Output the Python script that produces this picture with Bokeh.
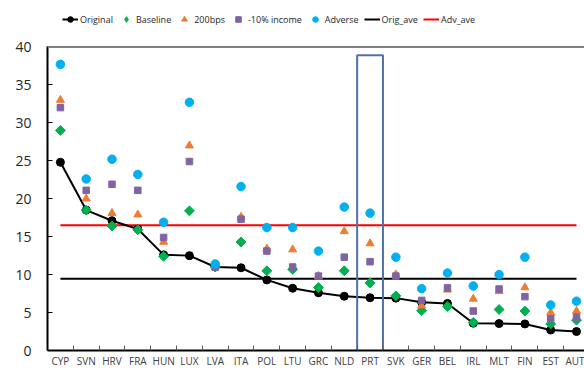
import numpy as np
from bokeh.plotting import figure
from bokeh.models import Range1d, FixedTicker, Legend, LegendItem, Span
from bokeh.embed import file_html
from bokeh.resources import INLINE

countries = ["CYP", "SVN", "HRV", "FRA", "HUN", "LUX", "LVA", "ITA", "POL", "LTU", "GRC",
             "NLD", "PRT", "SVK", "GER", "BEL", "IRL", "MLT", "FIN", "EST", "AUT"]
original = [24.8, 18.5, 17.1, 16.0, 12.6, 12.5, 11.0, 10.9, 9.3, 8.2, 7.6,
            7.15, 6.95, 6.9, 6.35, 6.2, 3.6, 3.55, 3.5, 2.7, 2.5]
baseline = [29.0, 18.5, 16.4, 15.9, 12.4, 18.4, 11.0, 14.3, 10.5, 10.7, 8.3,
            10.5, 8.9, 7.2, 5.25, 5.8, 3.7, 5.4, 5.2, 3.5, 4.0]
bps200 = [33.0, 20.0, 18.1, 17.9, 14.3, 27.0, 11.1, 17.6, 13.4, 13.3, 9.8,
          15.7, 14.1, 10.0, 5.9, 8.0, 6.8, 7.8, 8.3, 5.0, 5.2]
income10 = [32.0, 21.1, 21.9, 21.1, 14.9, 24.9, 11.0, 17.3, 13.1, 11.0, 9.8,
            12.3, 11.7, 9.8, 6.6, 8.25, 5.2, 8.1, 7.1, 4.2, 4.4]
adverse = [37.7, 22.6, 25.2, 23.2, 16.9, 32.7, 11.4, 21.6, 16.2, 16.2, 13.1,
           18.9, 18.1, 12.3, 8.15, 10.2, 8.5, 10.0, 12.3, 6.0, 6.5]
orig_ave = 9.45
adv_ave = 16.5
highlight = "PRT"
highlight_top = 38.9
y_ticks = [0, 5, 10, 15, 20, 25, 30, 35, 40]
y_max = 40

FONT = "Open Sans"
n = len(countries)
xs = list(range(n))

p = figure(width=584, height=370, output_backend="svg", toolbar_location=None,
           x_range=Range1d(-0.5, 20.31), y_range=Range1d(0, 45.85),
           min_border_left=47, min_border_right=0, min_border_top=2, min_border_bottom=19)
p.outline_line_color = None
p.xgrid.grid_line_color = None
p.ygrid.grid_line_color = None

# top line of the plot area
p.add_layout(Span(location=y_max, dimension="width", line_color="#7f7f7f", line_width=2))

# averages
r_oave = p.line(x=[xs[0], xs[-1]], y=[orig_ave, orig_ave], line_color="black", line_width=2)
r_aave = p.line(x=[xs[0], xs[-1]], y=[adv_ave, adv_ave], line_color="#FF0000", line_width=2)

# original
r_ol = p.line(x=xs, y=original, line_color="black", line_width=2)
r_od = p.scatter(x=xs, y=original, marker="circle", size=8, fill_color="black", line_color="black")

p.scatter(x=xs, y=baseline, marker="square", angle=np.pi / 4, size=7,
          fill_color="#00B050", line_color="#00B050")
# hidden twin used only for the legend swatch (diamond shape)
r_base = p.scatter(x=xs, y=baseline, marker="diamond", size=9,
                   fill_color="#00B050", line_color="#00B050", visible=False)
r_bps = p.scatter(x=xs, y=bps200, marker="triangle", size=8,
                  fill_color="#ED7D31", line_color="#ED7D31")
r_inc = p.scatter(x=xs, y=income10, marker="square", size=6.5,
                  fill_color="#8064A2", line_color="#8064A2")
r_adv = p.scatter(x=xs, y=adverse, marker="circle", size=8.5,
                  fill_color="#00B0F0", line_color="#00B0F0")

hi = countries.index(highlight)
p.quad(left=[hi - 0.5], right=[hi + 0.5], bottom=[-2], top=[highlight_top],
       fill_alpha=0, line_color="#4F71A6", line_width=2)

# axes
xa = p.xaxis[0]
xa.ticker = FixedTicker(ticks=xs, minor_ticks=[i + 0.5 for i in range(-1, n)])
xa.major_label_overrides = {i: c for i, c in enumerate(countries)}
xa.major_tick_line_color = None
xa.major_tick_in = 0
xa.major_tick_out = 0
xa.minor_tick_in = 5
xa.minor_tick_out = 0
xa.minor_tick_line_color = "#595959"
xa.axis_line_color = "black"
xa.axis_line_width = 2
xa.major_label_standoff = 3
xa.major_label_text_font = FONT
xa.major_label_text_font_size = "10px"
xa.major_label_text_color = "#404040"

ya = p.yaxis[0]
ya.ticker = FixedTicker(ticks=y_ticks)
ya.bounds = (0, y_max)
ya.major_tick_in = 5
ya.major_tick_out = 0
ya.minor_tick_line_color = None
ya.major_tick_line_color = "black"
ya.axis_line_color = "black"
ya.axis_line_width = 2
ya.major_label_standoff = 16
ya.major_label_text_font = FONT
ya.major_label_text_font_size = "14px"
ya.major_label_text_color = "#262626"

legend = Legend(items=[
    LegendItem(label="Original", renderers=[r_ol, r_od]),
    LegendItem(label="Baseline", renderers=[r_base]),
    LegendItem(label="200bps", renderers=[r_bps]),
    LegendItem(label="-10% income", renderers=[r_inc]),
    LegendItem(label="Adverse", renderers=[r_adv]),
    LegendItem(label="Orig_ave", renderers=[r_oave]),
    LegendItem(label="Adv_ave", renderers=[r_aave]),
], orientation="horizontal", location=(15, 324))
legend.glyph_width = 16
legend.glyph_height = 14
legend.label_standoff = 2
legend.spacing = 5
legend.padding = 2
legend.margin = 0
legend.border_line_color = None
legend.background_fill_alpha = 0
legend.inactive_fill_alpha = 0
legend.label_text_font = FONT
legend.label_text_font_size = "9px"
legend.label_text_color = "#262626"
legend.label_height = 14
p.add_layout(legend)

open("out.html", "w").write(file_html(p, INLINE))
